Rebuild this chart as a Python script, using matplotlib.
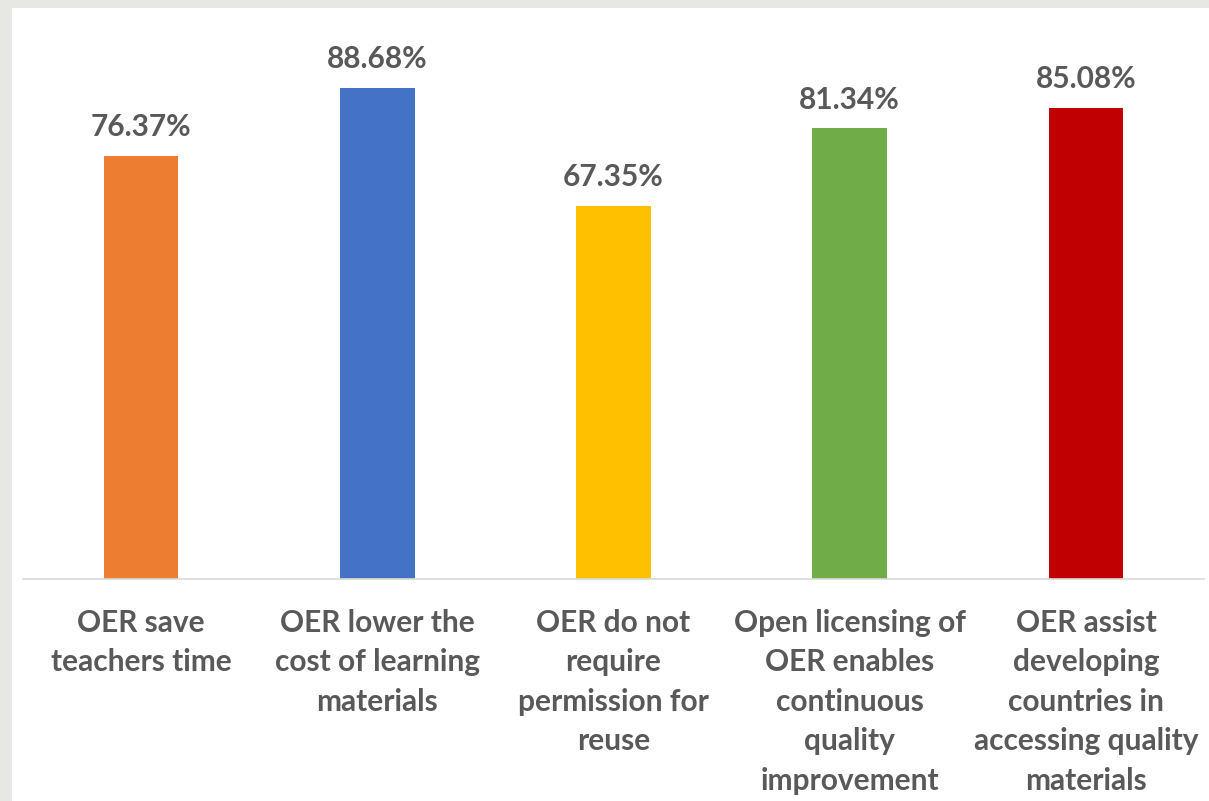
import matplotlib
matplotlib.use("Agg")
import matplotlib.pyplot as plt
from matplotlib.patches import Rectangle

# survey results: share of respondents agreeing with each statement
categories = [
    "OER save\nteachers time",
    "OER lower the\ncost of learning\nmaterials",
    "OER do not\nrequire\npermission for\nreuse",
    "Open licensing of\nOER enables\ncontinuous\nquality\nimprovement",
    "OER assist\ndeveloping\ncountries in\naccessing quality\nmaterials",
]
values = [76.37, 88.68, 67.35, 81.34, 85.08]
colors = ["#ED7D31", "#4472C4", "#FFC000", "#70AD47", "#C00000"]

W, H = 1209, 801
fig = plt.figure(figsize=(W / 100, H / 100), dpi=100, facecolor="#e7e7e3")

# white chart panel sitting on the grey slide background
panel = Rectangle((12 / W, 0), 1 - 12 / W, 1 - 8 / H, transform=fig.transFigure,
                  facecolor="white", edgecolor="none", zorder=-5)
fig.patches.append(panel)

ax = fig.add_axes([23 / W, 222 / H, (1204 - 23) / W, (579 - 25) / H])
ax.set_facecolor("none")
ax.set_zorder(2)

x = range(len(values))
bars = ax.bar(x, values, width=0.315, color=colors, zorder=2)

text_col = "#595959"
for b, v in zip(bars, values):
    ax.annotate(f"{v:.2f}%", (b.get_x() + b.get_width() / 2, v),
                xytext=(0, 10.5), textcoords="offset points",
                ha="center", va="bottom", fontsize=21.5, fontweight="bold",
                color=text_col, family="Lato")

ax.set_xlim(-0.5, len(values) - 0.5)
ax.set_ylim(0, 100)
ax.set_yticks([])
ax.set_xticks(list(x))
ax.set_xticklabels(categories, fontsize=21.5, fontweight="bold", color=text_col,
                   family="Lato", linespacing=1.5, va="top")
ax.tick_params(axis="x", length=0, pad=21.5)

for s in ["top", "right", "left"]:
    ax.spines[s].set_visible(False)
ax.spines["bottom"].set_color("#d9d9d9")
ax.spines["bottom"].set_linewidth(1.2)

fig.savefig("out.png", dpi=100, facecolor=fig.get_facecolor())
